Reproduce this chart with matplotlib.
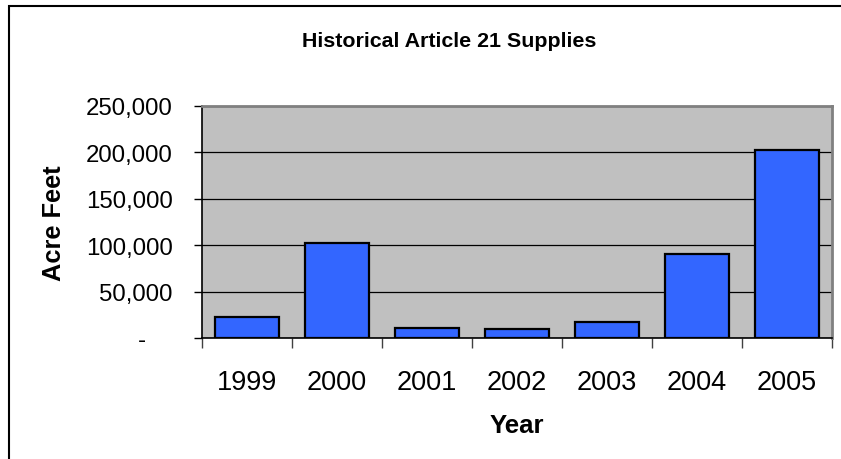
import matplotlib
matplotlib.use("Agg")
import matplotlib.pyplot as plt
from matplotlib.patches import Rectangle

plt.rcParams['font.family'] = ['Liberation Sans', 'DejaVu Sans']

years = ['1999', '2000', '2001', '2002', '2003', '2004', '2005']
supplies = [22300, 102500, 10400, 9700, 17500, 90600, 202200]
yticks = [0, 50000, 100000, 150000, 200000, 250000]
ytick_labels = ['-    ', '50,000', '100,000', '150,000', '200,000', '250,000']

fig = plt.figure(figsize=(8.41, 4.60), dpi=100)
ax = fig.add_axes([202/841, 1-339/460, 630/841, 232.3/460])
ax.set_facecolor('#C0C0C0')

x = list(range(len(years)))
ax.bar(x, supplies, width=0.714, color='#3366FF', edgecolor='black', linewidth=1.6, zorder=3)

ax.set_xlim(-0.5, len(years)-0.5)
ax.set_ylim(0, 250000)
ax.set_yticks(yticks)
ax.set_yticklabels(ytick_labels, fontsize=17.3)
ax.tick_params(axis='y', direction='out', length=6, width=1, pad=15, colors='black')

# year labels at centres, tick marks at category boundaries
ax.set_xticks(x)
ax.set_xticklabels(years, fontsize=19.5)
ax.set_xticks([i - 0.5 for i in range(len(years)+1)], minor=True)
ax.tick_params(axis='x', which='major', length=0, pad=22)
ax.tick_params(axis='x', which='minor', direction='out', length=7, width=1, color='#404040')

ax.yaxis.grid(True, color='black', linewidth=0.9, zorder=1)
ax.set_axisbelow(True)

ax.spines['left'].set_color('black')
ax.spines['bottom'].set_color('black')
ax.spines['left'].set_linewidth(1.2)
ax.spines['bottom'].set_linewidth(1.2)
for s in ['top', 'right']:
    ax.spines[s].set_color('#808080')
    ax.spines[s].set_linewidth(2)

ax.set_ylabel('Acre Feet', fontsize=18.3, fontweight='bold', va='center')
ax.yaxis.set_label_coords((54-202)/630, 0.5)
ax.set_xlabel('Year', fontsize=18.5, fontweight='bold')
ax.xaxis.set_label_coords(0.5, (339-414)/232.3)

fig.text(449/841, 1-47.3/460, 'Historical Article 21 Supplies', fontsize=15.4,
         fontweight='bold', ha='center', va='baseline')

# outer chart border (right and bottom edges fall outside the picture)
fig.add_artist(Rectangle((9/841, -0.1), 1.2, (460-7)/460 + 0.1, transform=fig.transFigure,
                         fill=False, edgecolor='black', linewidth=1.5))

fig.savefig('out.png', dpi=100)
